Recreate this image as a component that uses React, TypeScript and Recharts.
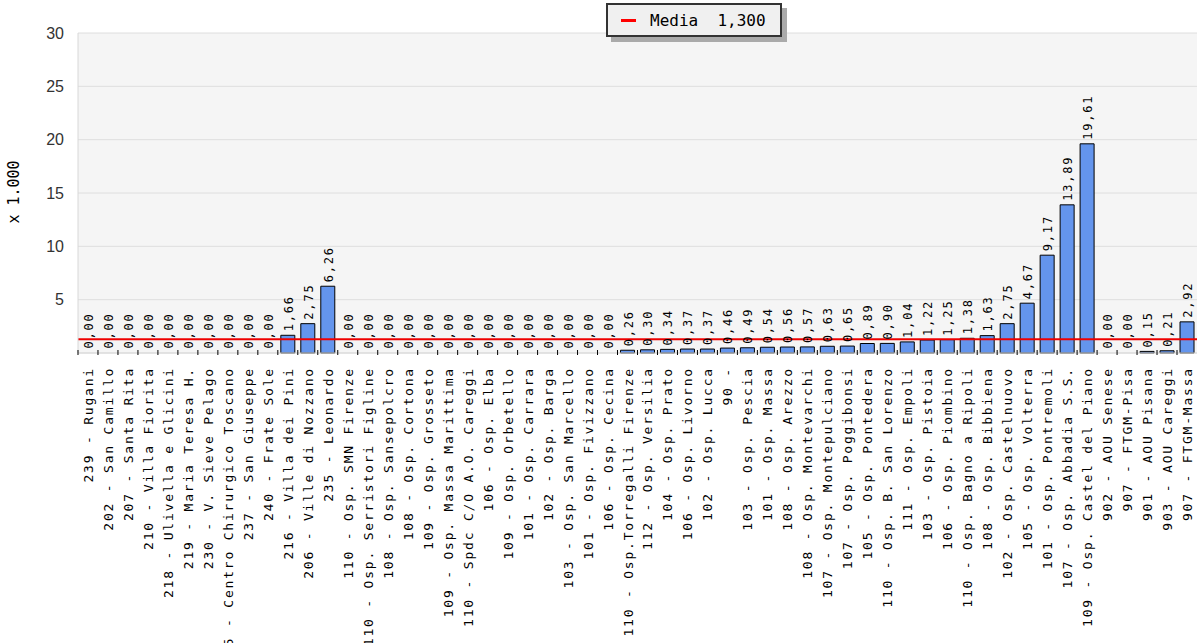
import React from "react"
import {
  BarChart,
  Bar,
  XAxis,
  YAxis,
  CartesianGrid,
  ReferenceLine,
  LabelList,
  Rectangle,
} from "recharts"

// reparti in ordine di visualizzazione
const categories = [
  "239 - Rugani",
  "202 - San Camillo",
  "207 - Santa Rita",
  "210 - Villa Fiorita",
  "218 - Ulivella e Glicini",
  "219 - Maria Teresa H.",
  "230 - V. Sieve Pelago",
  "225 - Centro Chirurgico Toscano",
  "237 - San Giuseppe",
  "240 - Frate Sole",
  "216 - Villa dei Pini",
  "206 - Ville di Nozzano",
  "235 - Leonardo",
  "110 - Osp. SMN Firenze",
  "110 - Osp. Serristori Figline",
  "108 - Osp. Sansepolcro",
  "108 - Osp. Cortona",
  "109 - Osp. Grosseto",
  "109 - Osp. Massa Marittima",
  "110 - Spdc C/O A.O. Careggi",
  "106 - Osp. Elba",
  "109 - Osp. Orbetello",
  "101 - Osp. Carrara",
  "102 - Osp. Barga",
  "103 - Osp. San Marcello",
  "101 - Osp. Fivizzano",
  "106 - Osp. Cecina",
  "110 - Osp.Torregalli Firenze",
  "112 - Osp. Versilia",
  "104 - Osp. Prato",
  "106 - Osp. Livorno",
  "102 - Osp. Lucca",
  "90 -",
  "103 - Osp. Pescia",
  "101 - Osp. Massa",
  "108 - Osp. Arezzo",
  "108 - Osp. Montevarchi",
  "107 - Osp. Montepulciano",
  "107 - Osp. Poggibonsi",
  "105 - Osp. Pontedera",
  "110 - Osp. B. San Lorenzo",
  "111 - Osp. Empoli",
  "103 - Osp. Pistoia",
  "106 - Osp. Piombino",
  "110 - Osp.  Bagno a Ripoli",
  "108 - Osp. Bibbiena",
  "102 - Osp. Castelnuovo",
  "105 - Osp. Volterra",
  "101 - Osp. Pontremoli",
  "107 - Osp. Abbadia S.S.",
  "109 - Osp. Castel del Piano",
  "902 - AOU Senese",
  "907 - FTGM-Pisa",
  "901 - AOU Pisana",
  "903 - AOU Careggi",
  "907 - FTGM-Massa",
]

// valori x 1.000
const values = [
  0, 0, 0, 0, 0, 0, 0, 0, 0, 0,
  1.66, 2.75, 6.26,
  0, 0, 0, 0, 0, 0, 0, 0, 0, 0, 0, 0, 0, 0,
  0.26, 0.3, 0.34, 0.37, 0.37, 0.46, 0.49, 0.54, 0.56, 0.57, 0.63, 0.65,
  0.89, 0.9, 1.04, 1.22, 1.25, 1.38, 1.63, 2.75, 4.67, 9.17, 13.89, 19.61,
  0, 0, 0.15, 0.21, 2.92,
]

const yTicks = [5, 10, 15, 20, 25, 30]
const media = 1.3

const data = categories.map((name, i) => ({ name, value: values[i] }))

const MONO = "'DejaVu Sans Mono', monospace"

function fmt(v: number, digits = 2) {
  return v.toFixed(digits).replace(".", ",")
}

function XTick(props: any) {
  const { x, y, payload } = props
  const tx = x + 5
  const ty = y + 12
  return (
    <g>
      <line x1={x - 10} y1={y} x2={x - 10} y2={y - 5} stroke="#000" strokeWidth={1} />
      <text
        x={tx}
        y={ty}
        transform={`rotate(-90, ${tx}, ${ty})`}
        textAnchor="end"
        fontFamily={MONO}
        fontSize={13}
        letterSpacing={1.8}
        fill="#000"
      >
        {payload.value}
      </text>
    </g>
  )
}

function ValueLabel(props: any) {
  const { x, y, width, value } = props
  const tx = x + width / 2 + 5
  const ty = y - 4
  return (
    <text
      x={tx}
      y={ty}
      transform={`rotate(-90, ${tx}, ${ty})`}
      textAnchor="start"
      fontFamily={MONO}
      fontSize={12}
      letterSpacing={1.8}
      fill="#000"
    >
      {fmt(Number(value))}
    </text>
  )
}

// le barre a zero non si disegnano, ma tengono l'etichetta
function BarShape(props: any) {
  if (!props.payload || props.payload.value === 0) return <g />
  return <Rectangle {...props} />
}

export default function App() {
  return (
    <div style={{ position: "absolute", left: 0, top: 0, width: 1197, height: 643, background: "#fff" }}>
      <BarChart
        width={1197}
        height={643}
        data={data}
        margin={{ top: 33, right: 0, left: 8, bottom: 0 }}
        barCategoryGap={0}
      >
        <CartesianGrid vertical={false} stroke="#dedede" fill="#f5f5f5" />
        <XAxis
          dataKey="name"
          interval={0}
          height={290}
          tickSize={0}
          tickLine={false}
          axisLine={{ stroke: "#d8d8d8" }}
          tick={<XTick />}
        />
        <YAxis
          domain={[0, 30]}
          ticks={yTicks}
          width={70}
          tickLine={false}
          tickSize={6}
          tickMargin={8}
          axisLine={{ stroke: "#d8d8d8" }}
          tick={{ fontSize: 16, fill: "#333", fontFamily: "'Liberation Sans', Arial, sans-serif" }}
        />
        <Bar
          dataKey="value"
          barSize={14}
          minPointSize={0.5}
          fill="#6495ed"
          stroke="#000"
          strokeWidth={1}
          shape={<BarShape />}
          isAnimationActive={false}
        >
          <LabelList dataKey="value" content={<ValueLabel />} />
        </Bar>
        <ReferenceLine y={media} stroke="#ee0000" strokeWidth={2} />
      </BarChart>
      <div
        style={{
          position: "absolute",
          left: 14,
          top: 192,
          transform: "translate(-50%, -50%) rotate(-90deg)",
          fontFamily: MONO,
          fontSize: 15,
          color: "#000",
          whiteSpace: "nowrap",
        }}
      >
        x 1.000
      </div>
      <div
        style={{
          position: "absolute",
          left: 606,
          top: 3,
          width: 172,
          height: 30,
          border: "2px solid #333",
          background: "#f0f0f0",
          boxShadow: "5px 5px 0 #aaa",
          display: "flex",
          alignItems: "center",
          fontFamily: MONO,
          fontSize: 16,
          color: "#000",
          whiteSpace: "pre",
        }}
      >
        <span style={{ display: "inline-block", width: 15, height: 3, background: "#ff0000", marginLeft: 13, marginRight: 14 }} />
        {"Media  " + fmt(media, 3)}
      </div>
    </div>
  )
}
